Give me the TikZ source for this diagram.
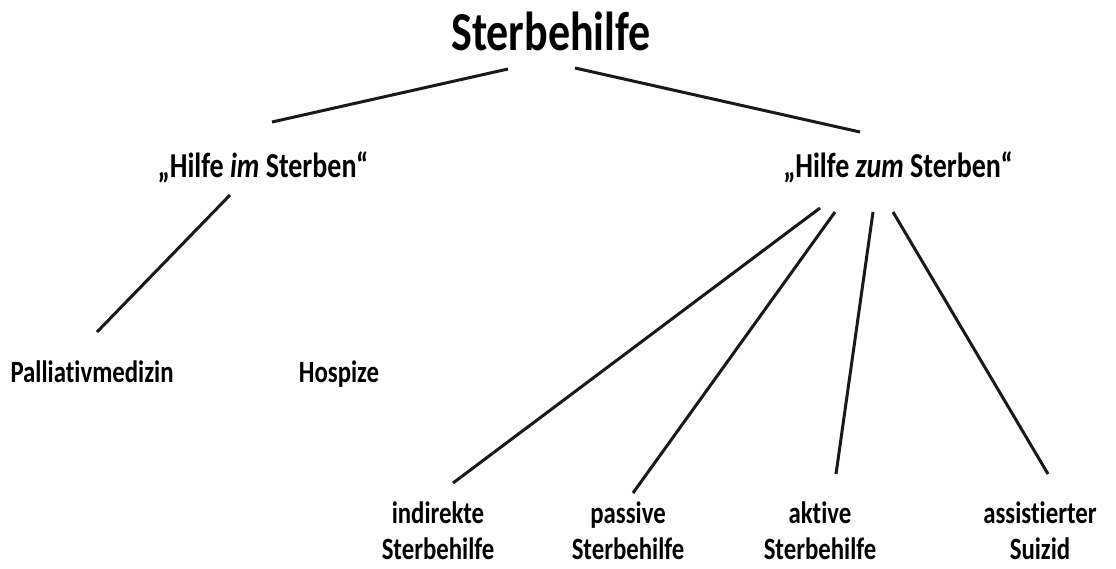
\documentclass[tikz,border=0pt]{standalone}
\usepackage{fontspec}
\setmainfont{Carlito}[FakeStretch=0.8, Ligatures=NoCommon]
\usetikzlibrary{positioning, calc}

\begin{document}
\begin{tikzpicture}[
    x=1pt, y=-1pt,
    title/.style={font=\bfseries\fontsize{55}{60}\selectfont, inner sep=0pt, anchor=base},
    branch/.style={font=\bfseries\fontsize{35}{40}\selectfont, inner sep=0pt, anchor=base},
    leaf/.style={font=\bfseries\fontsize{31}{36}\selectfont, inner sep=0pt, anchor=base, align=center},
    link/.style={line width=3pt, black!90}
]
    \useasboundingbox (0,0) rectangle (1116,568);

    \node[title] (root) at (551,50) {Sterbehilfe};

    \node[branch] (im) at (263,177) {„Hilfe \textit{im} Sterben“};
    \node[branch] (zum) at (898,177) {„Hilfe \textit{zum} Sterben“};

    \node[leaf] (pall) at (92,382) {Palliativmedizin};
    \node[leaf] (hosp) at (339,382) {Hospize};

    \node[leaf] (ind) at (438,559) {indirekte\\Sterbehilfe};
    \node[leaf] (pas) at (628,559) {passive\\Sterbehilfe};
    \node[leaf] (akt) at (820,559) {aktive\\Sterbehilfe};
    \node[leaf] (ass) at (1040,559) {assistierter\\Suizid};

    \draw[link] ($(root.base)+(-43,19)$) -- ($(im.base)+(9,-55)$);
    \draw[link] ($(root.base)+(24,18)$) -- ($(zum.base)+(-38,-45)$);

    \draw[link] ($(im.base)+(-33,18)$) -- ($(pall.base)+(5,-50)$);

    \draw[link] ($(zum.base)+(-78,31)$) -- ($(ind.base)+(15,-76)$);
    \draw[link] ($(zum.base)+(-63,35)$) -- ($(pas.base)+(5,-66)$);
    \draw[link] ($(zum.base)+(-25,35)$) -- ($(akt.base)+(16,-85)$);
    \draw[link] ($(zum.base)+(-5,35)$) -- ($(ass.base)+(8,-85)$);

\end{tikzpicture}
\end{document}
